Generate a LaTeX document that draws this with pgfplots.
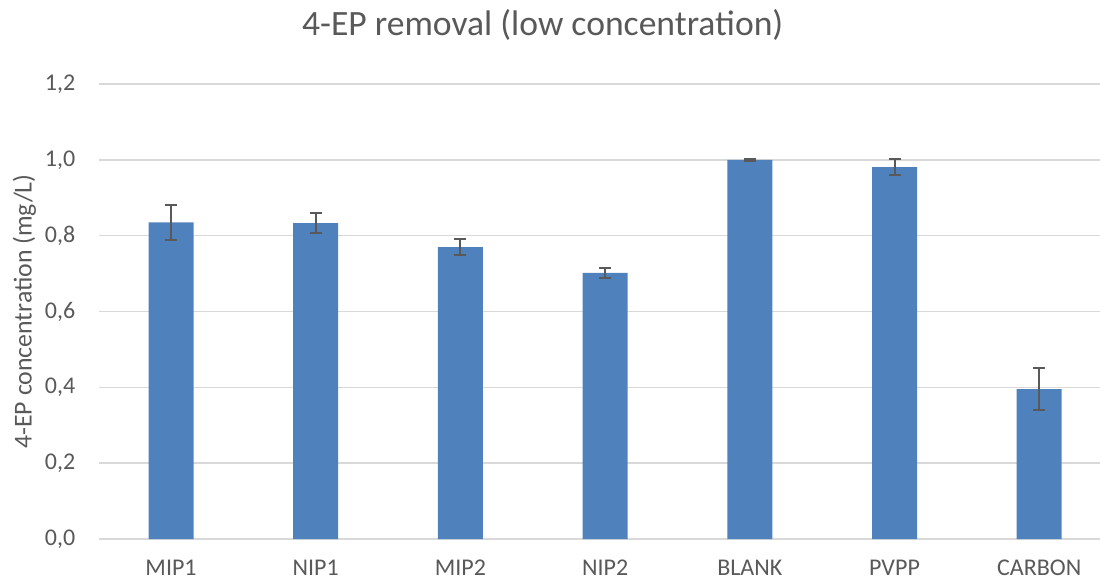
\documentclass[border=0pt]{standalone}
\usepackage{pgfplots}
\pgfplotsset{compat=1.18}
\usepackage{fontspec}
\setmainfont{Carlito}
\definecolor{barblue}{HTML}{4F81BD}
\definecolor{txtgray}{HTML}{595959}
\definecolor{gridgray}{HTML}{D9D9D9}
\definecolor{errgray}{HTML}{595959}
\begin{document}
\begin{tikzpicture}
\path[use as bounding box] (-49.35pt,-20pt) rectangle (500.65pt,269.5pt);
\begin{axis}[
  at={(0pt,0pt)}, anchor=south west,
  scale only axis,
  width=500.65pt, height=227.5pt,
  xmin=-0.5, xmax=6.42,
  ymin=0, ymax=1.2,
  ytick={0,0.2,...,1.21},
  xtick=data,
  xticklabels={MIP1,NIP1,MIP2,NIP2,BLANK,PVPP,CARBON},
  axis line style={draw=none},
  axis x line*=bottom,
  major tick length=0pt,
  ymajorgrids,
  grid style={gridgray, line width=0.75pt},
  tick label style={font=\fontsize{12}{14}\selectfont, text=txtgray},
  /pgf/number format/.cd, use comma, fixed, fixed zerofill, precision=1, assume math mode=true,
  /pgfplots/.cd,
  yticklabel style={anchor=east, inner sep=0pt, xshift=-11.5pt},
  xticklabel style={anchor=base, inner sep=0pt, yshift=-18pt},
  clip=false,
]
\addplot[ybar, bar width=22.5pt, fill=barblue, draw=none,
  error bars/.cd, y dir=both, y explicit,
  error bar style={errgray, line width=1pt},
  error mark options={rotate=90, mark size=3pt, errgray, line width=1pt}]
  table[x=x, y=y, y error=e] {
  x y e
  0 0.835 0.047
  1 0.833 0.027
  2 0.770 0.021
  3 0.702 0.014
  4 1.000 0.002
  5 0.981 0.022
  6 0.395 0.055
};
\end{axis}
\node[anchor=base, text=txtgray, font=\fontsize{17.8}{21}\selectfont, inner sep=0pt] at (222pt,251.5pt) {4-EP removal (low concentration)};
\node[anchor=base, rotate=90, text=txtgray, font=\fontsize{12.9}{15}\selectfont, inner sep=0pt] at (-33.5pt,113.75pt) {4-EP concentration (mg/L)};
\end{tikzpicture}
\end{document}
